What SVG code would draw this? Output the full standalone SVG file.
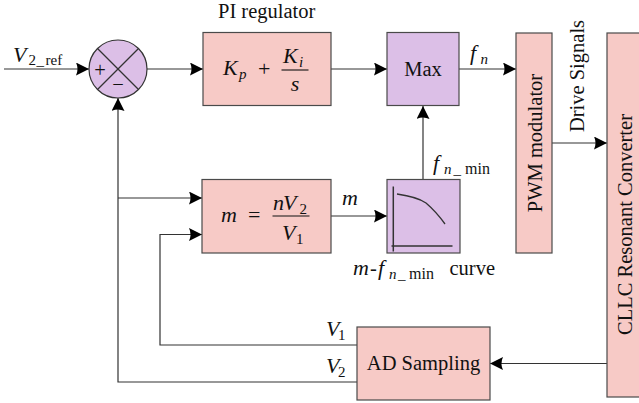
<svg xmlns="http://www.w3.org/2000/svg" width="639" height="403" viewBox="0 0 639 403">
<style>
.pink{fill:#f7cac6;stroke:#4a4a4a;stroke-width:1.2}
.purple{fill:#dcbfe7;stroke:#4a4a4a;stroke-width:1.2}
.wire{fill:none;stroke:#333;stroke-width:1.2}
.arrow{marker-end:url(#ah)}
text{font-family:"Liberation Serif","Times New Roman",serif;fill:#111}
.t{font-size:20.5px}
.mi{font-style:italic;font-size:22px}
.sub{font-size:15px}
.sub16{font-size:16px}
.subi{font-size:15px;font-style:italic}
.frac{stroke:#111;stroke-width:1.1}
</style>
<defs>
<marker id="ah" markerUnits="userSpaceOnUse" markerWidth="14" markerHeight="13" refX="13" refY="6.5" orient="auto">
<path d="M0,0 L13,6.5 L0,13 Q3,6.5 0,0 z" fill="#000"/>
</marker>
</defs>

<g id="connectors">
<line class="wire arrow" x1="4" y1="69" x2="89" y2="69"/>
<line class="wire arrow" x1="147" y1="69" x2="203" y2="69"/>
<line class="wire arrow" x1="331" y1="69" x2="387" y2="69"/>
<line class="wire arrow" x1="459" y1="69" x2="516" y2="69"/>
<line class="wire arrow" x1="552" y1="143" x2="607" y2="143"/>
<line class="wire arrow" x1="607" y1="363.5" x2="490" y2="363.5"/>
<line class="wire arrow" x1="331" y1="216" x2="387" y2="216"/>
<line class="wire arrow" x1="423" y1="179" x2="423" y2="106"/>
<polyline class="wire arrow" points="357,382 118,382 118,98"/>
<line class="wire arrow" x1="118" y1="198" x2="202" y2="198"/>
<polyline class="wire arrow" points="357,345 160,345 160,234.5 202,234.5"/>
</g>

<g id="labels">
<text x="13" y="62"><tspan class="mi">V</tspan><tspan class="sub" x="28.5" y="65">2</tspan><tspan class="sub" x="36.5">_</tspan><tspan class="sub" x="45.5">ref</tspan></text>
<text x="470" y="60"><tspan class="mi">f</tspan><tspan class="subi" x="480.5" y="64">n</tspan></text>
<text x="342" y="205" class="mi">m</text>
<text x="433" y="170"><tspan class="mi">f</tspan><tspan class="subi" x="444" y="174">n</tspan><tspan class="sub" x="453.5">_</tspan><tspan class="sub16" x="465">min</tspan></text>
<text x="326" y="336"><tspan class="mi">V</tspan><tspan class="sub" x="338" y="340">1</tspan></text>
<text x="326" y="372.5"><tspan class="mi">V</tspan><tspan class="sub" x="338" y="376.5">2</tspan></text>
</g>

<g id="sum">
<circle cx="118" cy="69" r="29" fill="#dcbfe7" stroke="#333" stroke-width="1.2"/>
<line x1="97.5" y1="48.5" x2="138.5" y2="89.5" stroke="#333" stroke-width="1.2"/>
<line x1="138.5" y1="48.5" x2="97.5" y2="89.5" stroke="#333" stroke-width="1.2"/>
<text x="100" y="77" class="t" text-anchor="middle">+</text>
<text x="118" y="91" class="t" text-anchor="middle">−</text>
</g>

<g id="pi">
<rect class="pink" x="203" y="32.5" width="128" height="73"/>
<text x="266.7" y="18" class="t" text-anchor="middle">PI regulator</text>
<text x="223" y="75"><tspan class="mi">K</tspan><tspan class="subi" x="239" y="78.5">p</tspan></text>
<text x="258" y="75.5" style="font-size:22px">+</text>
<text x="283" y="63"><tspan class="mi">K</tspan><tspan class="subi" x="299" y="66.5">i</tspan></text>
<line class="frac" x1="281.5" y1="70" x2="308.5" y2="70"/>
<text x="295" y="90.5" class="mi" text-anchor="middle">s</text>
</g>

<g id="max">
<rect class="purple" x="387" y="32.5" width="72" height="73"/>
<text x="423" y="76" class="t" text-anchor="middle">Max</text>
</g>

<g id="pwm">
<rect class="pink" x="516" y="33" width="36" height="220"/>
<text transform="translate(542,143) rotate(-90)" class="t" text-anchor="middle">PWM modulator</text>
</g>

<g id="drive">
<text transform="translate(583.5,76) rotate(-90)" class="t" text-anchor="middle">Drive Signals</text>
</g>

<g id="cllc">
<rect class="pink" x="607" y="33" width="40" height="364"/>
<text transform="translate(631.5,224.5) rotate(-90)" class="t" text-anchor="middle">CLLC Resonant Converter</text>
</g>

<g id="mcalc">
<rect class="pink" x="202" y="179.5" width="129" height="73.5"/>
<text x="221" y="222" class="mi">m</text>
<text x="248" y="222" style="font-size:22px">=</text>
<text x="273" y="210"><tspan class="mi">n</tspan><tspan class="mi" x="283">V</tspan><tspan class="sub" x="299.5" y="214">2</tspan></text>
<line class="frac" x1="272.5" y1="216" x2="309.5" y2="216"/>
<text x="282" y="240"><tspan class="mi">V</tspan><tspan class="sub" x="296" y="244">1</tspan></text>
</g>

<g id="curve">
<rect class="purple" x="387" y="179.5" width="73" height="73.5"/>
<line x1="393.3" y1="186.5" x2="393.3" y2="251.5" stroke="#333" stroke-width="1.5"/>
<line x1="391.5" y1="246" x2="452.5" y2="246" stroke="#333" stroke-width="1.5"/>
<path d="M397,194 C411,196 419,198 426,203 C433,209 440,217 445,224" fill="none" stroke="#333" stroke-width="1.3"/>
<text x="353" y="275"><tspan class="mi">m</tspan><tspan class="t" x="370">-</tspan><tspan class="mi" x="378">f</tspan><tspan class="subi" x="389" y="279">n</tspan><tspan class="sub" x="398">_</tspan><tspan class="sub16" x="409">min</tspan><tspan class="t" x="495" y="275" text-anchor="end">curve</tspan></text>
</g>

<g id="ad">
<rect class="pink" x="357" y="327" width="133" height="73"/>
<text x="423.5" y="370" class="t" text-anchor="middle">AD Sampling</text>
</g>
</svg>
